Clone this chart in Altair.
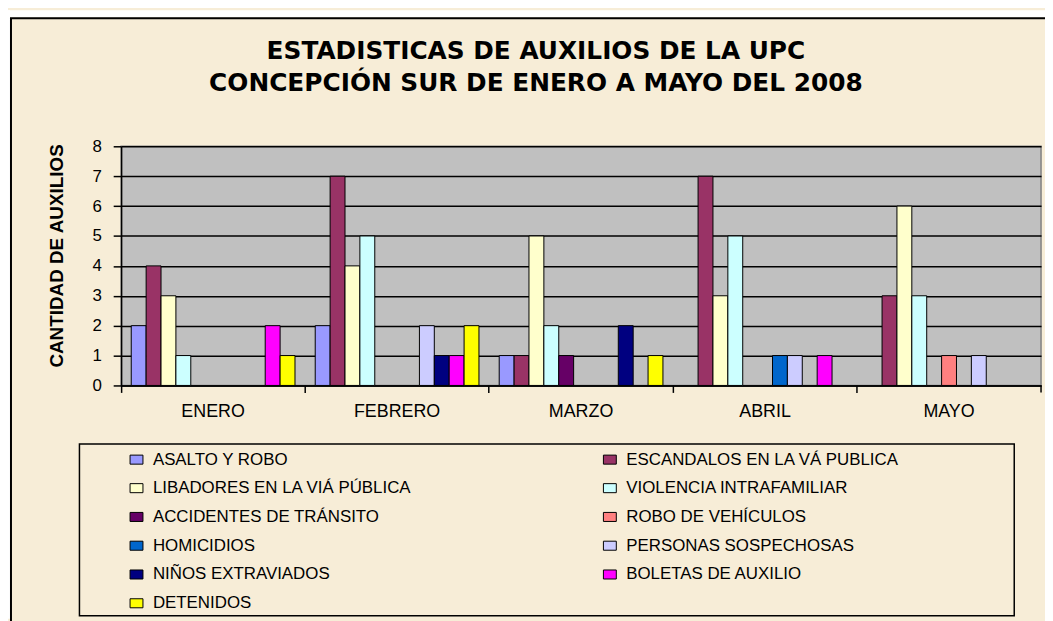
import altair as alt
import pandas as pd

months = ["ENERO", "FEBRERO", "MARZO", "ABRIL", "MAYO"]
series = [
    "ASALTO Y ROBO",
    "ESCANDALOS EN LA VÁ PUBLICA",
    "LIBADORES EN LA VIÁ PÚBLICA",
    "VIOLENCIA INTRAFAMILIAR",
    "ACCIDENTES DE TRÁNSITO",
    "ROBO DE VEHÍCULOS",
    "HOMICIDIOS",
    "PERSONAS SOSPECHOSAS",
    "NIÑOS EXTRAVIADOS",
    "BOLETAS DE AUXILIO",
    "DETENIDOS",
]
colors = ["#9999FF", "#993366", "#FFFFCC", "#CCFFFF", "#660066", "#FF8080",
          "#0066CC", "#CCCCFF", "#000080", "#FF00FF", "#FFFF00"]

asalto = [2, 2, 1, 0, 0]
escandalos = [4, 7, 1, 7, 3]
libadores = [3, 4, 5, 3, 6]
violencia = [1, 5, 2, 5, 3]
accidentes = [0, 0, 1, 0, 0]
robo_veh = [0, 0, 0, 0, 1]
homicidios = [0, 0, 0, 1, 0]
personas = [0, 2, 0, 1, 1]
ninos = [0, 1, 2, 0, 0]
boletas = [2, 1, 0, 1, 0]
detenidos = [1, 2, 1, 0, 0]

y_ticks = [0, 1, 2, 3, 4, 5, 6, 7, 8]
title_1 = "ESTADISTICAS DE AUXILIOS DE LA UPC"
title_2 = "CONCEPCIÓN SUR DE ENERO A MAYO DEL 2008"
y_title = "CANTIDAD DE AUXILIOS"

all_vals = [asalto, escandalos, libadores, violencia, accidentes, robo_veh,
            homicidios, personas, ninos, boletas, detenidos]
rows = []
for s, vals in zip(series, all_vals):
    for m, v in zip(months, vals):
        rows.append({"mes": m, "serie": s, "valor": v})
df = pd.DataFrame(rows)
one = pd.DataFrame({"k": [0]})

FONT = "Liberation Sans, Arial, sans-serif"
TFONT = "DejaVu Sans, Liberation Sans, Arial, sans-serif"
NARROW = "Liberation Sans Narrow, Arial Narrow, Liberation Sans, Arial"
W, H = 927, 241
PARCH = "#F7EDD7"

bars = alt.Chart(df).transform_filter("datum.valor > 0").mark_bar(
    stroke="black", strokeWidth=1
).encode(
    x=alt.X("mes:N", sort=months,
            scale=alt.Scale(domain=months, paddingInner=0, paddingOuter=0),
            axis=alt.Axis(title=None, labelFont=FONT, labelFontSize=18, labelColor="black",
                          labelAngle=0, labelPadding=10, domainColor="black", domainWidth=1.5,
                          tickColor="black", tickWidth=1.5, tickSize=7, bandPosition=0,
                          grid=False)),
    xOffset=alt.XOffset("serie:N", sort=series,
                        scale=alt.Scale(domain=series, paddingInner=0, paddingOuter=0.68)),
    y=alt.Y("valor:Q", scale=alt.Scale(domain=[0, 8], nice=False),
            axis=alt.Axis(values=y_ticks, title=y_title, titleFont=NARROW, titleFontSize=19,
                          titleFontWeight="bold", titleColor="black", titleAngle=270,
                          titleX=-65, titleY=110, titleAlign="center", titleBaseline="middle",
                          labelFont=FONT, labelFontSize=17, labelColor="black", labelPadding=12,
                          domainColor="black", domainWidth=1.5, tickColor="black", tickWidth=1.5,
                          tickSize=8, grid=True, gridColor="black", gridWidth=1.5,
                          gridOpacity=1)),
    color=alt.Color("serie:N", scale=alt.Scale(domain=series, range=colors),
                    legend=alt.Legend(title=None, orient="none", legendX=7, legendY=307,
                                      columns=2, columnPadding=191, rowPadding=11,
                                      labelFont=FONT, labelFontSize=17, labelColor="black",
                                      labelLimit=400, labelOffset=8,
                                      symbolType="M-1,-0.7L1,-0.7L1,0.7L-1,0.7Z",
                                      symbolSize=169, symbolStrokeColor="black",
                                      symbolStrokeWidth=1, symbolOpacity=1, padding=0,
                                      direction="horizontal")),
)

# decorations: white page strips, outer frame, legend frame, titles, end tick
strip_top = alt.Chart(one).mark_rect(color="white").encode(
    x=alt.value(-114), x2=alt.value(W + 4), y=alt.value(-137), y2=alt.value(-130))
strip_left = alt.Chart(one).mark_rect(color="white").encode(
    x=alt.value(-114), x2=alt.value(-112), y=alt.value(-137), y2=alt.value(H + 235))
frame = alt.Chart(one).mark_rect(fill=None, stroke="black", strokeWidth=2).encode(
    x=alt.value(-111), x2=alt.value(W + 40), y=alt.value(-129), y2=alt.value(H + 260))
leg_frame = alt.Chart(one).mark_rect(fill=None, stroke="black", strokeWidth=1.5).encode(
    x=alt.value(-42), x2=alt.value(900), y=alt.value(300), y2=alt.value(473))
t1 = alt.Chart(one).mark_text(text=title_1, font=TFONT, fontSize=25, fontWeight="bold",
                              color="black", align="center", baseline="middle").encode(
    x=alt.value(418), y=alt.value(-96))
t2 = alt.Chart(one).mark_text(text=title_2, font=TFONT, fontSize=25, fontWeight="bold",
                              color="black", align="center", baseline="middle").encode(
    x=alt.value(418), y=alt.value(-64))
end_tick = alt.Chart(one).mark_rule(color="black", strokeWidth=1.5).encode(
    x=alt.value(W), y=alt.value(H), y2=alt.value(H + 7))

chart = alt.layer(strip_top, strip_left, frame, bars, leg_frame, t1, t2, end_tick).properties(
    width=W, height=H,
    autosize=alt.AutoSizeParams(type="none"),
    padding={"left": 114, "top": 137, "right": 4, "bottom": 235},
    background=PARCH,
).configure_view(fill="#C0C0C0", stroke="#808080", strokeWidth=1.5)

chart.save("out.html", embed_options={"renderer": "svg", "actions": False})
